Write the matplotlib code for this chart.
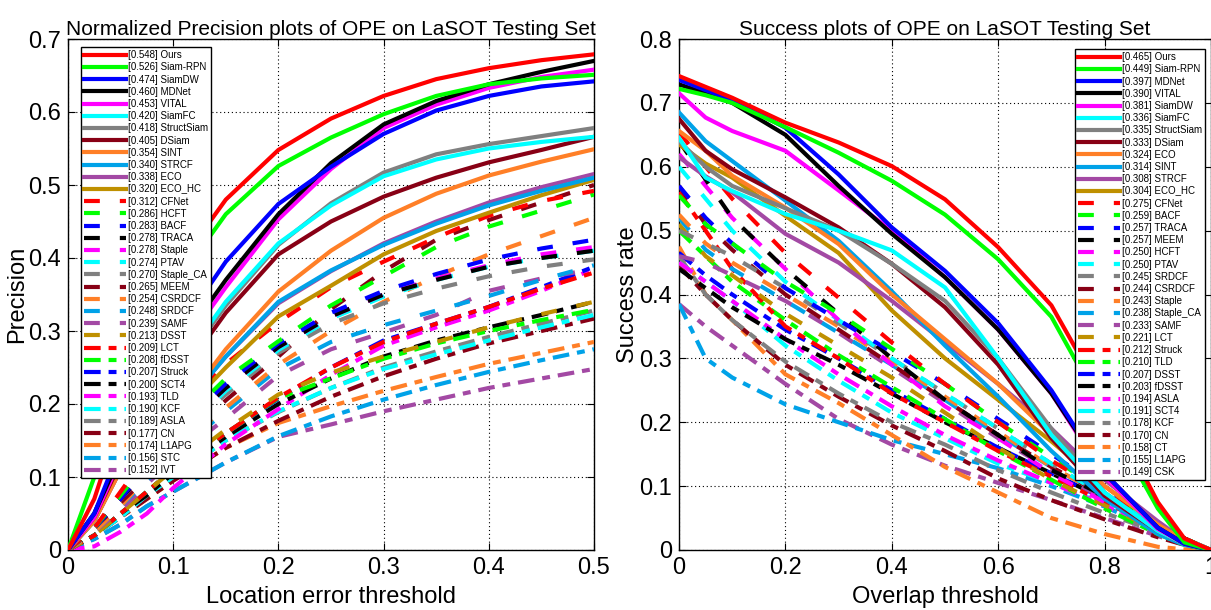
import matplotlib
matplotlib.use("Agg")
import matplotlib.pyplot as plt

plt.rcParams['font.family'] = ['Liberation Sans', 'DejaVu Sans']

# ===============================
# Data
# ===============================

# colour cycle of the toolkit, repeated for every group of 12 trackers
COLORS = ['#ff0000', '#00ff00', '#0000ff', '#000000', '#ff00ff', '#00ffff',
          '#808080', '#880015', '#ff7f27', '#00a2e8', '#a349a4', '#bf9000']

# --- normalized precision (left) ---
prec_x = [0, 0.025, 0.05, 0.075, 0.1, 0.15, 0.2, 0.25, 0.3, 0.35, 0.4, 0.45, 0.5]

prec_names = ['Ours', 'Siam-RPN', 'SiamDW', 'MDNet', 'VITAL', 'SiamFC', 'StructSiam',
              'DSiam', 'SINT', 'STRCF', 'ECO', 'ECO_HC',
              'CFNet', 'HCFT', 'BACF', 'TRACA', 'Staple', 'PTAV', 'Staple_CA', 'MEEM',
              'CSRDCF', 'SRDCF', 'SAMF', 'DSST',
              'LCT', 'fDSST', 'Struck', 'SCT4', 'TLD', 'KCF', 'ASLA', 'CN', 'L1APG',
              'STC', 'IVT']
prec_scores = [0.548, 0.526, 0.474, 0.460, 0.453, 0.420, 0.418, 0.405, 0.354, 0.340,
               0.338, 0.320,
               0.312, 0.286, 0.283, 0.278, 0.278, 0.274, 0.270, 0.265, 0.254, 0.248,
               0.239, 0.213,
               0.209, 0.208, 0.207, 0.200, 0.193, 0.190, 0.189, 0.177, 0.174, 0.156,
               0.152]

prec_solid = [
    [0, 0.07, 0.18, 0.29, 0.38, 0.48, 0.548, 0.591, 0.622, 0.645, 0.660, 0.671, 0.679],
    [0, 0.10, 0.20, 0.29, 0.36, 0.46, 0.526, 0.565, 0.597, 0.622, 0.638, 0.646, 0.651],
    [0, 0.05, 0.14, 0.22, 0.29, 0.395, 0.474, 0.525, 0.570, 0.602, 0.622, 0.635, 0.642],
    [0, 0.05, 0.13, 0.20, 0.27, 0.37, 0.460, 0.530, 0.583, 0.615, 0.638, 0.655, 0.670],
    [0, 0.045, 0.125, 0.19, 0.26, 0.36, 0.453, 0.522, 0.578, 0.610, 0.633, 0.648, 0.658],
    [0, 0.05, 0.13, 0.185, 0.24, 0.34, 0.420, 0.472, 0.512, 0.535, 0.550, 0.559, 0.566],
    [0, 0.05, 0.125, 0.18, 0.235, 0.335, 0.418, 0.475, 0.517, 0.542, 0.556, 0.567, 0.578],
    [0, 0.045, 0.12, 0.175, 0.225, 0.325, 0.405, 0.450, 0.484, 0.510, 0.531, 0.548, 0.566],
    [0, 0.04, 0.11, 0.15, 0.18, 0.275, 0.354, 0.410, 0.455, 0.488, 0.513, 0.532, 0.549],
    [0, 0.04, 0.115, 0.15, 0.18, 0.265, 0.340, 0.383, 0.418, 0.447, 0.472, 0.492, 0.510],
    [0, 0.04, 0.11, 0.15, 0.18, 0.265, 0.338, 0.382, 0.420, 0.450, 0.476, 0.497, 0.515],
    [0, 0.04, 0.11, 0.145, 0.175, 0.25, 0.320, 0.362, 0.405, 0.437, 0.462, 0.486, 0.507],
]
prec_dashed = [
    [0, 0.03, 0.08, 0.13, 0.18, 0.255, 0.312, 0.360, 0.395, 0.428, 0.458, 0.478, 0.492],
    [0, 0.03, 0.075, 0.12, 0.165, 0.235, 0.286, 0.335, 0.375, 0.415, 0.443, 0.465, 0.487],
    [0, 0.03, 0.07, 0.115, 0.16, 0.228, 0.283, 0.325, 0.355, 0.378, 0.398, 0.413, 0.425],
    [0, 0.03, 0.07, 0.11, 0.155, 0.222, 0.278, 0.320, 0.350, 0.370, 0.388, 0.400, 0.410],
    [0, 0.03, 0.07, 0.11, 0.155, 0.222, 0.278, 0.320, 0.350, 0.372, 0.390, 0.405, 0.415],
    [0, 0.03, 0.07, 0.11, 0.15, 0.218, 0.274, 0.317, 0.347, 0.370, 0.388, 0.400, 0.410],
    [0, 0.03, 0.07, 0.11, 0.15, 0.213, 0.270, 0.310, 0.338, 0.358, 0.375, 0.388, 0.398],
    [0, 0.03, 0.065, 0.10, 0.14, 0.205, 0.265, 0.330, 0.382, 0.425, 0.452, 0.476, 0.500],
    [0, 0.025, 0.06, 0.10, 0.135, 0.195, 0.254, 0.300, 0.340, 0.375, 0.405, 0.430, 0.455],
    [0, 0.025, 0.06, 0.095, 0.13, 0.19, 0.248, 0.285, 0.308, 0.328, 0.348, 0.370, 0.390],
    [0, 0.025, 0.055, 0.09, 0.125, 0.18, 0.239, 0.275, 0.298, 0.322, 0.355, 0.372, 0.385],
    [0, 0.02, 0.05, 0.08, 0.11, 0.165, 0.213, 0.243, 0.265, 0.285, 0.305, 0.323, 0.340],
]
prec_dashdot = [
    [0, 0.02, 0.05, 0.08, 0.11, 0.16, 0.209, 0.250, 0.285, 0.310, 0.333, 0.358, 0.380],
    [0, 0.02, 0.05, 0.08, 0.11, 0.16, 0.208, 0.235, 0.262, 0.283, 0.300, 0.315, 0.329],
    [0, 0.02, 0.05, 0.08, 0.11, 0.16, 0.207, 0.250, 0.287, 0.310, 0.333, 0.360, 0.388],
    [0, 0.02, 0.05, 0.075, 0.105, 0.155, 0.200, 0.235, 0.265, 0.287, 0.305, 0.322, 0.340],
    [0, 0.005, 0.025, 0.05, 0.085, 0.145, 0.193, 0.240, 0.280, 0.305, 0.328, 0.355, 0.385],
    [0, 0.02, 0.045, 0.075, 0.10, 0.15, 0.190, 0.222, 0.248, 0.268, 0.287, 0.305, 0.322],
    [0, 0.02, 0.045, 0.075, 0.10, 0.15, 0.189, 0.222, 0.250, 0.272, 0.292, 0.310, 0.328],
    [0, 0.02, 0.045, 0.07, 0.095, 0.14, 0.177, 0.210, 0.238, 0.262, 0.283, 0.300, 0.317],
    [0, 0.02, 0.045, 0.07, 0.095, 0.14, 0.174, 0.197, 0.218, 0.237, 0.255, 0.270, 0.285],
    [0, 0.015, 0.035, 0.06, 0.08, 0.12, 0.156, 0.183, 0.206, 0.226, 0.244, 0.260, 0.275],
    [0, 0.015, 0.035, 0.06, 0.08, 0.12, 0.155, 0.172, 0.190, 0.206, 0.222, 0.235, 0.248],
]

# --- success (right) ---
succ_x = [0, 0.05, 0.1, 0.2, 0.3, 0.4, 0.5, 0.6, 0.7, 0.8, 0.9, 0.95, 1.0]

succ_names = ['Ours', 'Siam-RPN', 'MDNet', 'VITAL', 'SiamDW', 'SiamFC', 'StructSiam',
              'DSiam', 'ECO', 'SINT', 'STRCF', 'ECO_HC',
              'CFNet', 'BACF', 'TRACA', 'MEEM', 'HCFT', 'PTAV', 'SRDCF', 'CSRDCF',
              'Staple', 'Staple_CA', 'SAMF', 'LCT',
              'Struck', 'TLD', 'DSST', 'fDSST', 'ASLA', 'SCT4', 'KCF', 'CN', 'CT',
              'L1APG', 'CSK']
succ_scores = [0.465, 0.449, 0.397, 0.390, 0.381, 0.336, 0.335, 0.333, 0.324, 0.314,
               0.308, 0.304,
               0.275, 0.259, 0.257, 0.257, 0.250, 0.250, 0.245, 0.244, 0.243, 0.238,
               0.233, 0.221,
               0.212, 0.210, 0.207, 0.203, 0.194, 0.191, 0.178, 0.170, 0.158, 0.155,
               0.149]

succ_solid = [
    [0.742, 0.725, 0.708, 0.669, 0.638, 0.601, 0.549, 0.474, 0.383, 0.235, 0.075, 0.018, 0],
    [0.722, 0.712, 0.700, 0.662, 0.622, 0.578, 0.525, 0.455, 0.365, 0.215, 0.065, 0.012, 0],
    [0.736, 0.720, 0.705, 0.661, 0.588, 0.505, 0.437, 0.355, 0.250, 0.120, 0.035, 0.010, 0],
    [0.729, 0.715, 0.700, 0.650, 0.570, 0.495, 0.427, 0.345, 0.245, 0.120, 0.035, 0.010, 0],
    [0.715, 0.677, 0.656, 0.625, 0.563, 0.500, 0.427, 0.345, 0.245, 0.115, 0.033, 0.010, 0],
    [0.645, 0.583, 0.562, 0.526, 0.500, 0.469, 0.411, 0.300, 0.180, 0.090, 0.030, 0.010, 0],
    [0.640, 0.600, 0.570, 0.535, 0.500, 0.448, 0.390, 0.300, 0.190, 0.090, 0.030, 0.010, 0],
    [0.675, 0.625, 0.596, 0.552, 0.505, 0.448, 0.380, 0.290, 0.175, 0.085, 0.030, 0.010, 0],
    [0.656, 0.625, 0.586, 0.536, 0.479, 0.400, 0.330, 0.260, 0.180, 0.100, 0.040, 0.015, 0],
    [0.685, 0.640, 0.609, 0.547, 0.484, 0.405, 0.320, 0.240, 0.155, 0.080, 0.025, 0.008, 0],
    [0.615, 0.585, 0.560, 0.495, 0.450, 0.390, 0.325, 0.260, 0.190, 0.110, 0.045, 0.015, 0],
    [0.635, 0.605, 0.583, 0.523, 0.465, 0.375, 0.300, 0.235, 0.170, 0.100, 0.040, 0.015, 0],
]
succ_dashed = [
    [0.655, 0.600, 0.550, 0.465, 0.395, 0.325, 0.260, 0.200, 0.140, 0.090, 0.040, 0.018, 0],
    [0.555, 0.510, 0.480, 0.420, 0.370, 0.315, 0.260, 0.200, 0.145, 0.090, 0.040, 0.018, 0],
    [0.570, 0.520, 0.480, 0.410, 0.360, 0.310, 0.260, 0.205, 0.150, 0.095, 0.040, 0.018, 0],
    [0.640, 0.580, 0.520, 0.440, 0.370, 0.300, 0.235, 0.180, 0.125, 0.085, 0.040, 0.018, 0],
    [0.620, 0.570, 0.520, 0.440, 0.360, 0.290, 0.225, 0.175, 0.120, 0.075, 0.035, 0.015, 0],
    [0.600, 0.550, 0.500, 0.420, 0.360, 0.300, 0.245, 0.190, 0.135, 0.085, 0.040, 0.018, 0],
    [0.500, 0.480, 0.460, 0.410, 0.355, 0.300, 0.245, 0.190, 0.135, 0.085, 0.040, 0.018, 0],
    [0.570, 0.510, 0.470, 0.400, 0.345, 0.290, 0.235, 0.180, 0.130, 0.085, 0.040, 0.018, 0],
    [0.525, 0.480, 0.450, 0.400, 0.350, 0.295, 0.240, 0.185, 0.130, 0.085, 0.040, 0.018, 0],
    [0.520, 0.470, 0.440, 0.390, 0.340, 0.290, 0.235, 0.180, 0.130, 0.085, 0.040, 0.018, 0],
    [0.460, 0.450, 0.430, 0.390, 0.340, 0.285, 0.230, 0.175, 0.125, 0.080, 0.035, 0.015, 0],
    [0.510, 0.460, 0.430, 0.370, 0.320, 0.270, 0.215, 0.160, 0.110, 0.070, 0.030, 0.012, 0],
]
succ_dashdot = [
    [0.560, 0.500, 0.440, 0.350, 0.300, 0.245, 0.200, 0.155, 0.115, 0.075, 0.035, 0.015, 0],
    [0.500, 0.460, 0.420, 0.360, 0.305, 0.255, 0.205, 0.155, 0.110, 0.065, 0.025, 0.008, 0],
    [0.465, 0.430, 0.400, 0.345, 0.300, 0.250, 0.205, 0.160, 0.120, 0.080, 0.040, 0.018, 0],
    [0.440, 0.410, 0.380, 0.330, 0.290, 0.245, 0.200, 0.160, 0.120, 0.080, 0.040, 0.018, 0],
    [0.450, 0.420, 0.390, 0.330, 0.275, 0.225, 0.180, 0.140, 0.105, 0.070, 0.030, 0.012, 0],
    [0.450, 0.420, 0.390, 0.320, 0.265, 0.215, 0.175, 0.135, 0.105, 0.072, 0.035, 0.015, 0],
    [0.460, 0.400, 0.360, 0.295, 0.245, 0.200, 0.165, 0.125, 0.090, 0.058, 0.028, 0.012, 0],
    [0.445, 0.400, 0.360, 0.290, 0.240, 0.195, 0.155, 0.112, 0.078, 0.048, 0.020, 0.008, 0],
    [0.475, 0.400, 0.360, 0.275, 0.230, 0.180, 0.130, 0.090, 0.050, 0.025, 0.005, 0.001, 0],
    [0.385, 0.300, 0.270, 0.228, 0.200, 0.172, 0.150, 0.128, 0.100, 0.068, 0.030, 0.012, 0],
    [0.385, 0.350, 0.320, 0.260, 0.205, 0.165, 0.132, 0.105, 0.078, 0.050, 0.022, 0.008, 0],
]

# line styles of the three groups (dash lengths are in multiples of line width)
STYLES = [None, (3.8, 4.8), (4.0, 1.9, 1.9, 1.9)]
LW = 3.0


def fmt(v, _pos=None):
    return '0' if abs(v) < 1e-9 else ('%g' % round(v, 3))


def draw_panel(ax, x, groups, names, scores, title, xlabel, ylabel, xticks, yticks,
               legend_anchor, legend_loc):
    handles = []
    k = 0
    for g, rows in enumerate(groups):
        for i, y in enumerate(rows):
            line, = ax.plot(x, y, color=COLORS[i], lw=LW, zorder=100 - k,
                            solid_joinstyle='round', dash_capstyle='butt')
            if STYLES[g] is not None:
                line.set_dashes(STYLES[g])
            handles.append(line)
            k += 1
    labels = ['[%.3f] %s' % (s, n) for s, n in zip(scores, names)]

    ax.set_xlim(xticks[0], xticks[-1])
    ax.set_ylim(yticks[0], yticks[-1])
    ax.set_xticks(xticks)
    ax.set_yticks(yticks)
    ax.xaxis.set_major_formatter(plt.FuncFormatter(fmt))
    ax.yaxis.set_major_formatter(plt.FuncFormatter(fmt))
    ax.tick_params(direction='in', top=True, right=True, length=5, width=0.8,
                   labelsize=17, pad=5)
    ax.grid(True, linestyle=(0, (1, 2.5)), color='black', linewidth=0.8)
    for sp in ax.spines.values():
        sp.set_linewidth(1.0)
    ax.set_title(title, fontsize=15, pad=3)
    ax.set_xlabel(xlabel, fontsize=17, labelpad=5)
    ax.set_ylabel(ylabel, fontsize=17, labelpad=0)

    leg = ax.legend(handles, labels, loc=legend_loc, bbox_to_anchor=legend_anchor,
                    fontsize=7, handlelength=4.3, handletextpad=0.2, labelspacing=0.227,
                    borderpad=0.3, borderaxespad=0, frameon=True, fancybox=False,
                    edgecolor='black', framealpha=1)
    leg.get_frame().set_linewidth(1.0)
    leg.set_zorder(200)


fig = plt.figure(figsize=(12.11, 6.10), dpi=100)
ax1 = fig.add_axes([68 / 1211, 60 / 610, 526 / 1211, 511 / 610])
ax2 = fig.add_axes([679 / 1211, 60 / 610, 532 / 1211, 511 / 610])

draw_panel(ax1, prec_x, [prec_solid, prec_dashed, prec_dashdot], prec_names, prec_scores,
           'Normalized Precision plots of OPE on LaSOT Testing Set',
           'Location error threshold', 'Precision',
           [0, 0.1, 0.2, 0.3, 0.4, 0.5], [0, 0.1, 0.2, 0.3, 0.4, 0.5, 0.6, 0.7],
           (0.025, 0.984), 'upper left')
draw_panel(ax2, succ_x, [succ_solid, succ_dashed, succ_dashdot], succ_names, succ_scores,
           'Success plots of OPE on LaSOT Testing Set',
           'Overlap threshold', 'Success rate',
           [0, 0.2, 0.4, 0.6, 0.8, 1.0], [0, 0.1, 0.2, 0.3, 0.4, 0.5, 0.6, 0.7, 0.8],
           (0.989, 0.980), 'upper right')

fig.savefig('out.png', dpi=100)
